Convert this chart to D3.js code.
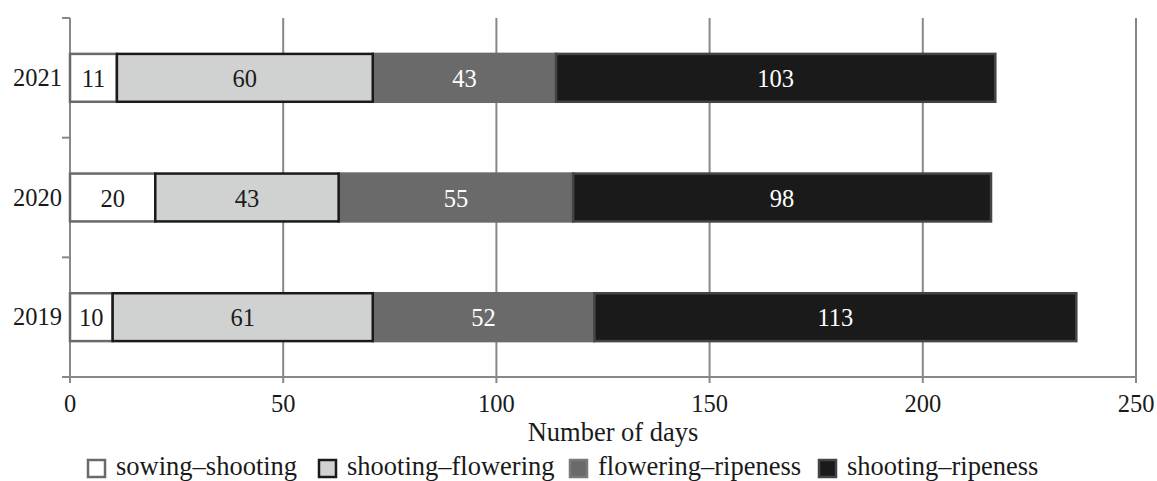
<!DOCTYPE html>
<html>
<head>
<meta charset="utf-8">
<script src="https://cdn.jsdelivr.net/npm/d3@7"></script>
<style>
  body { margin: 0; background: #fff; }
  svg text { font-family: "Liberation Serif", "Times New Roman", serif; }
</style>
</head>
<body>
<div id="chart"></div>
<script>
// Data
const years = ['2021', '2020', '2019'];
const stages = ['sowing–shooting', 'shooting–flowering', 'flowering–ripeness', 'shooting–ripeness'];
const sowingShooting = [11, 20, 10];
const shootingFlowering = [60, 43, 61];
const floweringRipeness = [43, 55, 52];
const shootingRipeness = [103, 98, 113];
const xTicks = [0, 50, 100, 150, 200, 250];

const series = [sowingShooting, shootingFlowering, floweringRipeness, shootingRipeness];
const fills = ['#ffffff', '#d0d2d1', '#6a6a6a', '#1a1a1a'];
const strokes = ['#6a6a6a', '#1a1a1a', '#6a6a6a', '#444444'];
const textFill = ['#1a1a1a', '#1a1a1a', '#ffffff', '#ffffff'];

const width = 1157, height = 481;
const margin = { left: 70, right: 21, top: 18, bottom: 104 };
const numSize = 24.5, wordSize = 26.5;

const svg = d3.select('#chart').append('svg')
  .attr('width', width)
  .attr('height', height);

const x = d3.scaleLinear()
  .domain([0, 250])
  .range([margin.left, width - margin.right]);

const y = d3.scaleBand()
  .domain(years)
  .range([margin.top, height - margin.bottom])
  .paddingInner(0.6)
  .paddingOuter(0.3);

// Gridlines
svg.append('g')
  .selectAll('line')
  .data(xTicks.slice(1))
  .join('line')
  .attr('x1', d => x(d)).attr('x2', d => x(d))
  .attr('y1', margin.top).attr('y2', height - margin.bottom + 6)
  .attr('stroke', '#888').attr('stroke-width', 2);

// y axis line and ticks (category boundaries)
const yTop = margin.top, yBot = height - margin.bottom;
const step = (yBot - yTop) / years.length;
svg.append('line')
  .attr('x1', x(0)).attr('x2', x(0))
  .attr('y1', yTop).attr('y2', yBot + 6)
  .attr('stroke', '#888').attr('stroke-width', 2);
svg.append('g')
  .selectAll('line')
  .data(d3.range(years.length + 1))
  .join('line')
  .attr('x1', x(0) - 8).attr('x2', x(0))
  .attr('y1', i => yTop + i * step).attr('y2', i => yTop + i * step)
  .attr('stroke', '#888').attr('stroke-width', 2);

// x axis line
svg.append('line')
  .attr('x1', x(0) - 8).attr('x2', x(250))
  .attr('y1', yBot).attr('y2', yBot)
  .attr('stroke', '#888').attr('stroke-width', 2);

// Stacked bars
const stacked = years.map((yr, i) => {
  let acc = 0;
  return series.map((s, k) => {
    const seg = { year: yr, k, v: s[i], x0: acc, x1: acc + s[i] };
    acc += s[i];
    return seg;
  });
}).flat();

// light-gray segments drawn last so their black border sits on top
const order = [0, 2, 3, 1];
const bars = svg.append('g');
order.forEach(k => {
  bars.selectAll(null)
    .data(stacked.filter(d => d.k === k))
    .join('rect')
    .attr('x', d => x(d.x0))
    .attr('width', d => x(d.x1) - x(d.x0))
    .attr('y', d => y(d.year))
    .attr('height', y.bandwidth())
    .attr('fill', fills[k])
    .attr('stroke', strokes[k])
    .attr('stroke-width', 2.5);
});

svg.append('g')
  .selectAll('text')
  .data(stacked)
  .join('text')
  .attr('x', d => (x(d.x0) + x(d.x1)) / 2)
  .attr('y', d => y(d.year) + y.bandwidth() / 2 + 9)
  .attr('text-anchor', 'middle')
  .attr('font-size', numSize)
  .attr('fill', d => textFill[d.k])
  .text(d => d.v);

// Year labels
svg.append('g')
  .selectAll('text')
  .data(years)
  .join('text')
  .attr('x', x(0) - 8)
  .attr('y', d => y(d) + y.bandwidth() / 2 + 8)
  .attr('text-anchor', 'end')
  .attr('font-size', numSize)
  .attr('fill', '#1a1a1a')
  .text(d => d);

// X tick labels
svg.append('g')
  .selectAll('text')
  .data(xTicks)
  .join('text')
  .attr('x', d => x(d))
  .attr('y', yBot + 35)
  .attr('text-anchor', 'middle')
  .attr('font-size', numSize)
  .attr('fill', '#1a1a1a')
  .text(d => d);

// Axis title
svg.append('text')
  .attr('x', 613)
  .attr('y', 441)
  .attr('text-anchor', 'middle')
  .attr('font-size', wordSize)
  .attr('fill', '#1a1a1a')
  .text('Number of days');

// Legend
const legendX = [88, 319, 570, 819];
const legend = svg.append('g');
stages.forEach((name, k) => {
  legend.append('rect')
    .attr('x', legendX[k]).attr('y', 460)
    .attr('width', 17).attr('height', 17)
    .attr('fill', fills[k])
    .attr('stroke', k === 2 ? '#7a7a7a' : strokes[k])
    .attr('stroke-width', 2.5);
  legend.append('text')
    .attr('x', legendX[k] + 28)
    .attr('y', 475)
    .attr('font-size', wordSize)
    .attr('fill', '#1a1a1a')
    .text(name);
});
</script>
</body>
</html>
